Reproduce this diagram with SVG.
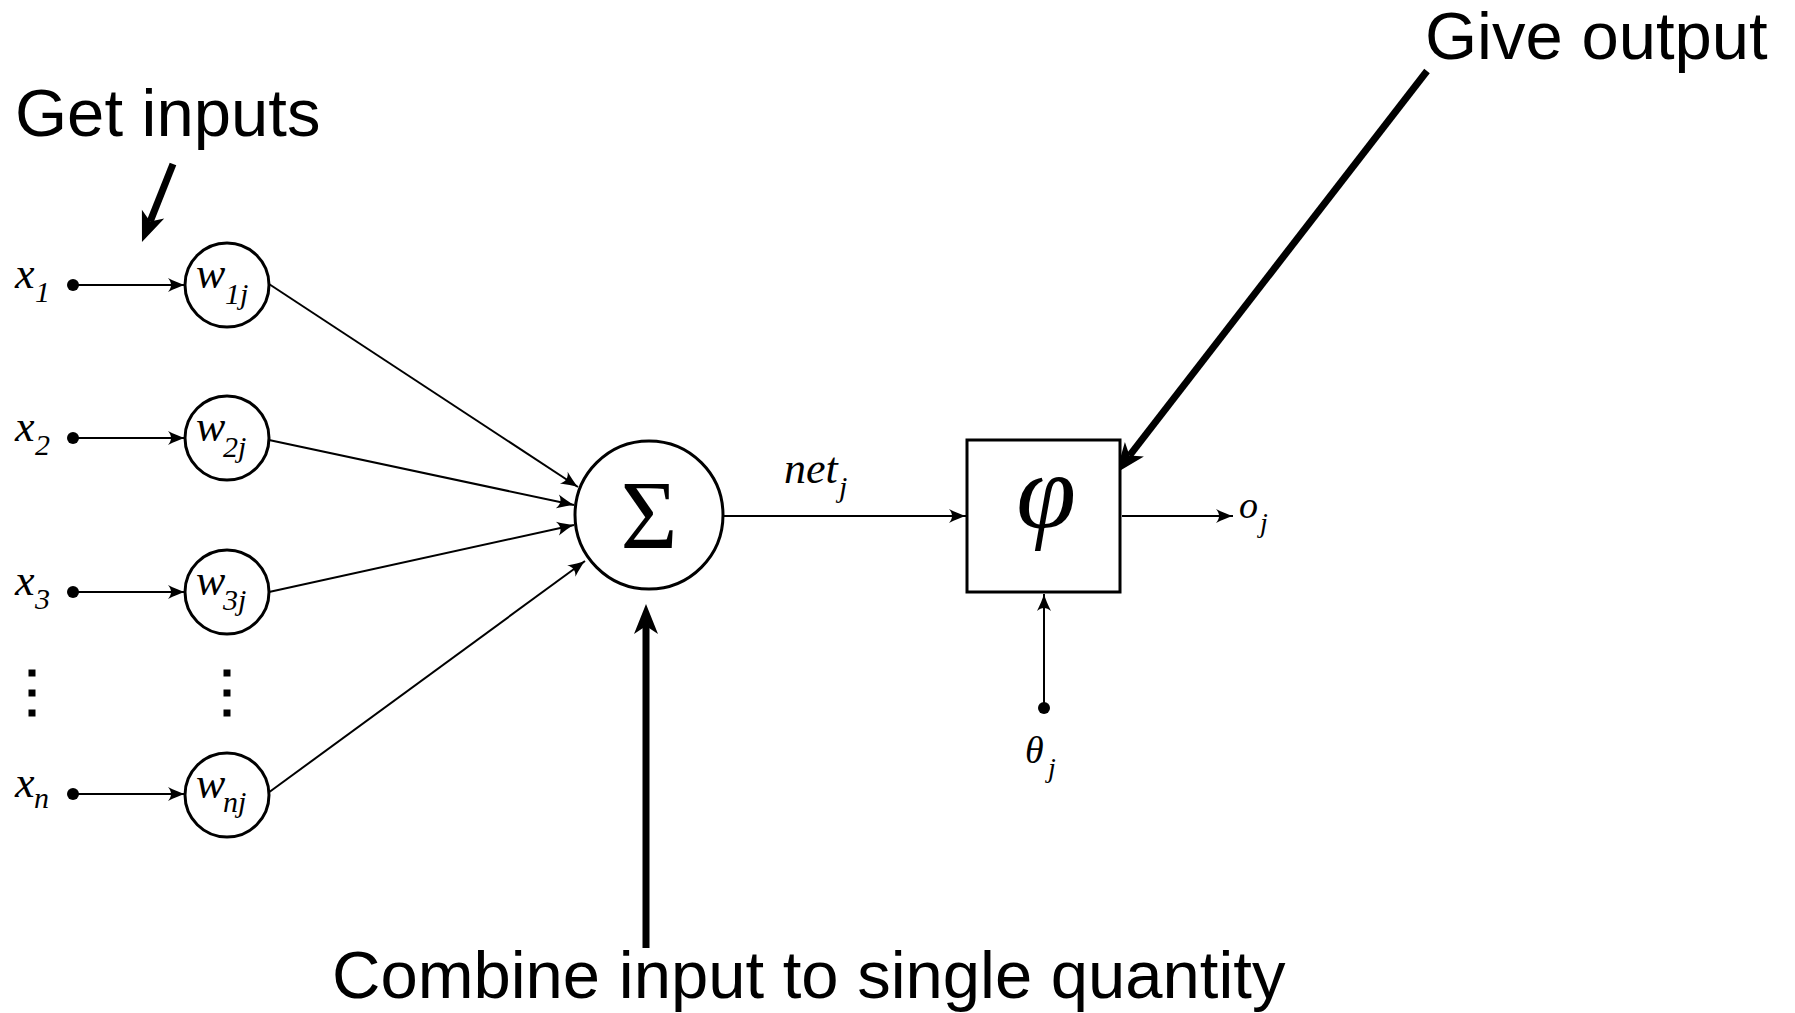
<svg xmlns="http://www.w3.org/2000/svg" width="1795" height="1013" viewBox="0 0 1795 1013">
<style>
.bg{fill:#fff}
.node{fill:#fff;stroke:#000;stroke-width:3}
.dot{fill:#000}
.thin{stroke:#000;stroke-width:2;fill:none}
.thick{stroke:#000;stroke-width:7;fill:none}
.math{font-family:"Liberation Serif","Times New Roman",serif;font-style:italic;fill:#000}
.up{font-family:"Liberation Serif","Times New Roman",serif;fill:#000}
.note{font-family:"Liberation Sans",Arial,sans-serif;font-size:67px;fill:#000}
</style>
<defs>
<marker id="ah" markerUnits="userSpaceOnUse" orient="auto" refX="0" refY="0" markerWidth="40" markerHeight="40" overflow="visible">
<path d="M0,0 C-5,-1.5 -11,-4 -17,-7 C-13,-2.5 -13,2.5 -17,7 C-11,4 -5,1.5 0,0 Z" fill="#000"/>
</marker>
<marker id="big" markerUnits="userSpaceOnUse" orient="auto" refX="0" refY="0" markerWidth="60" markerHeight="60" overflow="visible">
<path d="M22,0 L-8,-12 L0,0 L-8,12 Z" fill="#000"/>
</marker>
</defs>
<rect class="bg" x="0" y="0" width="1795" height="1013"/>

<g id="connectors">
<line class="thin" x1="73" y1="285" x2="185" y2="285" marker-end="url(#ah)"/>
<line class="thin" x1="73" y1="438" x2="185" y2="438" marker-end="url(#ah)"/>
<line class="thin" x1="73" y1="592" x2="185" y2="592" marker-end="url(#ah)"/>
<line class="thin" x1="73" y1="794" x2="185" y2="794" marker-end="url(#ah)"/>
<line class="thin" x1="269" y1="284" x2="578" y2="487" marker-end="url(#ah)"/>
<line class="thin" x1="269" y1="440" x2="574" y2="505" marker-end="url(#ah)"/>
<line class="thin" x1="269" y1="592" x2="574" y2="525" marker-end="url(#ah)"/>
<line class="thin" x1="268" y1="793" x2="585" y2="561" marker-end="url(#ah)"/>
<line class="thin" x1="723" y1="516" x2="966" y2="516" marker-end="url(#ah)"/>
<line class="thin" x1="1122" y1="516" x2="1233" y2="516" marker-end="url(#ah)"/>
<line class="thin" x1="1044" y1="708" x2="1044" y2="594" marker-end="url(#ah)"/>
<line class="thick" x1="173" y1="164" x2="150.1" y2="221.6" marker-end="url(#big)"/>
<line class="thick" x1="1427" y1="71" x2="1129.5" y2="455.6" marker-end="url(#big)"/>
<line class="thick" x1="646" y1="948" x2="646" y2="626" marker-end="url(#big)"/>
</g>

<g id="x1"><circle class="dot" cx="73" cy="285" r="6"/><text class="math" x="15" y="288" font-size="44">x</text><text class="math" x="35" y="302" font-size="30">1</text></g>
<g id="x2"><circle class="dot" cx="73" cy="438" r="6"/><text class="math" x="15" y="441" font-size="44">x</text><text class="math" x="35" y="455" font-size="30">2</text></g>
<g id="x3"><circle class="dot" cx="73" cy="592" r="6"/><text class="math" x="15" y="595" font-size="44">x</text><text class="math" x="35" y="609" font-size="30">3</text></g>
<g id="xn"><circle class="dot" cx="73" cy="794" r="6"/><text class="math" x="15" y="797" font-size="44">x</text><text class="math" x="34" y="808" font-size="30">n</text></g>
<g id="xdots"><rect class="dot" x="28.5" y="669.5" width="7" height="7"/><rect class="dot" x="28.5" y="689.5" width="7" height="7"/><rect class="dot" x="28.5" y="709.5" width="7" height="7"/></g>

<g id="w1"><circle class="node" cx="227" cy="285" r="42"/><text class="math" x="196" y="288" font-size="44">w</text><text class="math" x="225" y="304" font-size="30">1j</text></g>
<g id="w2"><circle class="node" cx="227" cy="438" r="42"/><text class="math" x="196" y="441" font-size="44">w</text><text class="math" x="223" y="457" font-size="30">2j</text></g>
<g id="w3"><circle class="node" cx="227" cy="592" r="42"/><text class="math" x="196" y="595" font-size="44">w</text><text class="math" x="223" y="610" font-size="30">3j</text></g>
<g id="wn"><circle class="node" cx="227" cy="795" r="42"/><text class="math" x="196" y="798" font-size="44">w</text><text class="math" x="223" y="812" font-size="30">nj</text></g>
<g id="wdots"><rect class="dot" x="223.5" y="669.5" width="7" height="7"/><rect class="dot" x="223.5" y="689.5" width="7" height="7"/><rect class="dot" x="223.5" y="709.5" width="7" height="7"/></g>

<g id="sum"><circle class="node" cx="649" cy="515" r="74"/><text class="up" x="649" y="548" font-size="98" text-anchor="middle">Σ</text></g>
<g id="net"><text class="math" x="784" y="483" font-size="44">net</text><text class="math" x="839" y="497" font-size="30">j</text></g>
<g id="phi"><rect class="node" x="967" y="440" width="153" height="152"/><text class="math" x="1046" y="528" font-size="108" text-anchor="middle">φ</text></g>
<g id="out"><text class="math" x="1239" y="518" font-size="38">o</text><text class="math" x="1260" y="532" font-size="28">j</text></g>
<g id="bias"><circle class="dot" cx="1044" cy="708" r="6"/><text class="math" x="1025" y="763" font-size="38">θ</text><text class="math" x="1048" y="777" font-size="28">j</text></g>

<g id="note-inputs"><text class="note" x="15" y="136">Get inputs</text></g>
<g id="note-output"><text class="note" x="1425" y="59" font-size="62">Give output</text></g>
<g id="note-combine"><text class="note" x="332" y="998">Combine input to single quantity</text></g>
</svg>
